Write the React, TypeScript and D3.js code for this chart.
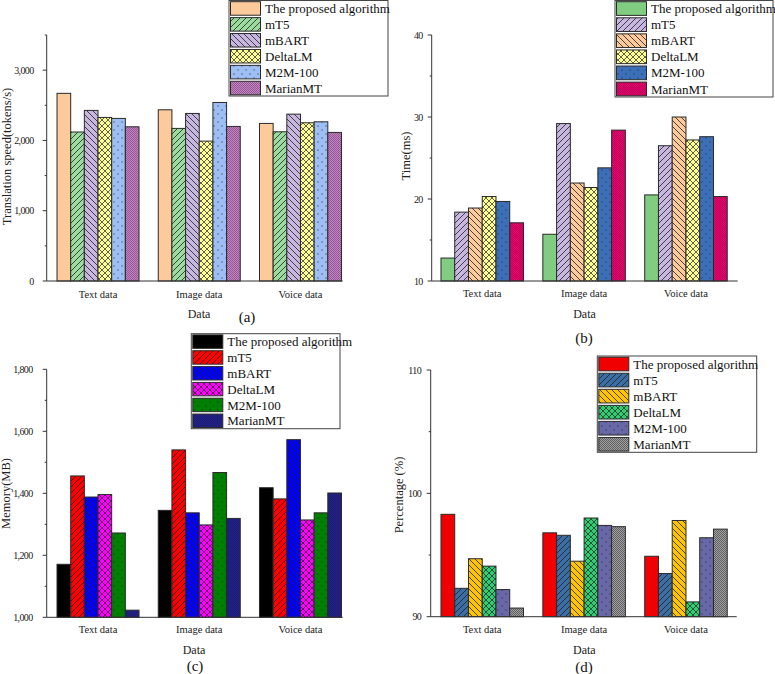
import React, { useEffect, useRef } from "react";
import * as d3 from "d3";

// categories on the x axis and the compared methods
const categories = ["Text data", "Image data", "Voice data"];
const methods = ["The proposed algorithm", "mT5", "mBART", "DeltaLM", "M2M-100", "MarianMT"];

// (a) translation speed, tokens/s — one row per method, one value per category
const speedValues = [
  [2670, 2436, 2242],
  [2120, 2171, 2123],
  [2427, 2384, 2374],
  [2327, 1990, 2251],
  [2313, 2540, 2265],
  [2194, 2199, 2114],
];

// (b) time, ms
const timeValues = [
  [12.8, 15.7, 20.5],
  [18.4, 29.2, 26.5],
  [18.9, 21.95, 30.0],
  [20.3, 21.4, 27.2],
  [19.7, 23.8, 27.6],
  [17.1, 28.4, 20.3],
];

// (c) memory, MB
const memoryValues = [
  [1171, 1345, 1418],
  [1456, 1540, 1382],
  [1388, 1337, 1573],
  [1396, 1298, 1314],
  [1272, 1467, 1337],
  [1023, 1319, 1401],
];

// (d) percentage
const percentValues = [
  [98.3, 96.8, 94.9],
  [92.3, 96.6, 93.5],
  [94.7, 94.5, 97.8],
  [94.1, 98.0, 91.2],
  [92.2, 97.4, 96.4],
  [90.7, 97.3, 97.1],
];

const speedTicks = [0, 1000, 2000, 3000];
const timeTicks = [10, 20, 30, 40];
const memoryTicks = [1000, 1200, 1400, 1600, 1800];
const percentTicks = [90, 100, 110];

const FONT = "'Liberation Serif', 'Times New Roman', serif";

type Panel = {
  key: string;
  values: number[][];
  domain: [number, number];
  ticks: number[];
  minor: number[];
  fmt: (v: number) => string;
  colors: string[];
  denseInk: number;
  yTitle: string;
  letter: string;
  axisX: [number, number];
  bandX: [number, number];
  plotY: [number, number];
  tickGap: number;
  yTitlePos: [number, number];
  dataPos: [number, number];
  letterPos: [number, number];
  tickY: number;
  legend: { x: number; y: number; w: number; h: number };
};

const comma = d3.format(",d");
const plain = d3.format("d");

const panels: Panel[] = [
  {
    key: "a",
    values: speedValues,
    domain: [0, 3500],
    ticks: speedTicks,
    minor: [500, 1500, 2500, 3500],
    fmt: comma,
    colors: ["#fdca9b", "#9bdb9e", "#c6b6e0", "#ffff99", "#9dbff5", "#c97ec9"],
    denseInk: 0.35,
    yTitle: "Translation speed(tokens/s)",
    letter: "(a)",
    axisX: [46.7, 342.7],
    bandX: [47.4, 351.1],
    plotY: [281, 35],
    tickGap: 13,
    yTitlePos: [6.5, 156.5],
    dataPos: [199, 317.5],
    letterPos: [247, 322],
    tickY: 297.5,
    legend: { x: 229, y: 0.5, w: 159, h: 95.5 },
  },
  {
    key: "b",
    values: timeValues,
    domain: [10, 40],
    ticks: timeTicks,
    minor: [15, 25, 35],
    fmt: plain,
    colors: ["#80cc80", "#c6b6e0", "#fdca9b", "#ffff99", "#3b70b8", "#f0006e"],
    denseInk: 0.3,
    yTitle: "Time(ms)",
    letter: "(b)",
    axisX: [431.7, 737.7],
    bandX: [431.3, 736.9],
    plotY: [281, 35],
    tickGap: 9,
    yTitlePos: [405.8, 156],
    dataPos: [584.5, 317.5],
    letterPos: [584, 342.5],
    tickY: 297,
    legend: { x: 615, y: 0.5, w: 158, h: 96.5 },
  },
  {
    key: "c",
    values: memoryValues,
    domain: [1000, 1800],
    ticks: memoryTicks,
    minor: [1100, 1300, 1500, 1700],
    fmt: comma,
    colors: ["#000000", "#ff0000", "#0000ff", "#ff00ff", "#008000", "#1f1f99"],
    denseInk: 0.45,
    yTitle: "Memory(MB)",
    letter: "(c)",
    axisX: [46.7, 342.7],
    bandX: [47.4, 351.1],
    plotY: [617.3, 369.3],
    tickGap: 14,
    yTitlePos: [6, 493.5],
    dataPos: [194, 653.5],
    letterPos: [195, 670.5],
    tickY: 633,
    legend: { x: 191.3, y: 333.7, w: 148.7, h: 95 },
  },
  {
    key: "d",
    values: percentValues,
    domain: [90, 110],
    ticks: percentTicks,
    minor: [95, 105],
    fmt: plain,
    colors: ["#f00000", "#3a6ea5", "#ffc400", "#33cc70", "#6868a8", "#a0a0a0"],
    denseInk: 0.5,
    yTitle: "Percentage (%)",
    letter: "(d)",
    axisX: [430.7, 736.7],
    bandX: [431.3, 736.9],
    plotY: [616.7, 370],
    tickGap: 9.5,
    yTitlePos: [398.3, 495],
    dataPos: [584.3, 653.5],
    letterPos: [584, 671.5],
    tickY: 633,
    legend: { x: 597.3, y: 356, w: 159.4, h: 96.3 },
  },
];

// fill pattern for each method slot: solid, /, \, cross, dots, dense
function addPattern(defs: any, id: string, kind: number, color: string, denseInk: number) {
  const ink = "#1f1f1f";
  if (kind === 1 || kind === 2) {
    const p = defs.append("pattern").attr("id", id).attr("patternUnits", "userSpaceOnUse")
      .attr("width", 6).attr("height", 6);
    p.append("rect").attr("width", 6).attr("height", 6).attr("fill", color);
    p.append("path")
      .attr("d", kind === 1 ? "M-1,1 l2,-2 M0,6 l6,-6 M5,7 l2,-2" : "M-1,5 l2,2 M0,0 l6,6 M5,-1 l2,2")
      .attr("stroke", ink).attr("stroke-width", 0.8);
  } else if (kind === 3) {
    const p = defs.append("pattern").attr("id", id).attr("patternUnits", "userSpaceOnUse")
      .attr("width", 6).attr("height", 6);
    p.append("rect").attr("width", 6).attr("height", 6).attr("fill", color);
    p.append("path")
      .attr("d", "M-1,1 l2,-2 M0,6 l6,-6 M5,7 l2,-2 M-1,5 l2,2 M0,0 l6,6 M5,-1 l2,2")
      .attr("stroke", ink).attr("stroke-width", 0.7);
  } else if (kind === 4) {
    const p = defs.append("pattern").attr("id", id).attr("patternUnits", "userSpaceOnUse")
      .attr("width", 8).attr("height", 8);
    p.append("rect").attr("width", 8).attr("height", 8).attr("fill", color);
    p.append("rect").attr("x", 1.5).attr("y", 1.5).attr("width", 1).attr("height", 1).attr("fill", ink);
    p.append("rect").attr("x", 5.5).attr("y", 5.5).attr("width", 1).attr("height", 1).attr("fill", ink);
  } else if (kind === 5) {
    const p = defs.append("pattern").attr("id", id).attr("patternUnits", "userSpaceOnUse")
      .attr("width", 2).attr("height", 2);
    p.append("rect").attr("width", 2).attr("height", 2).attr("fill", color);
    p.append("rect").attr("width", 1).attr("height", 1).attr("fill", ink).attr("opacity", denseInk);
    p.append("rect").attr("x", 1).attr("y", 1).attr("width", 1).attr("height", 1).attr("fill", ink).attr("opacity", denseInk);
  }
}

export default function App() {
  const svgRef = useRef<SVGSVGElement>(null);

  useEffect(() => {
    if (!svgRef.current) return;
    const svg = d3.select(svgRef.current);
    svg.selectAll("*").remove();
    svg.append("rect").attr("width", 775).attr("height", 674).attr("fill", "#fff");
    const defs = svg.append("defs");
    const axisColor = "#333";

    panels.forEach((pn) => {
      pn.colors.forEach((c, i) => {
        if (i > 0) addPattern(defs, `pat-${pn.key}-${i}`, i, c, pn.denseInk);
      });
      const fillFor = (i: number) => (i === 0 ? pn.colors[0] : `url(#pat-${pn.key}-${i})`);

      const x = d3.scaleBand<string>().domain(categories).range(pn.bandX)
        .paddingInner(0.19).paddingOuter(0.095);
      const xs = d3.scaleBand<string>().domain(methods).range([0, x.bandwidth()]);
      const y = d3.scaleLinear().domain(pn.domain).range(pn.plotY);
      const g = svg.append("g");

      // bars
      methods.forEach((m, i) => {
        g.append("g")
          .selectAll("rect")
          .data(pn.values[i])
          .join("rect")
          .attr("x", (_d, j) => (x(categories[j]) ?? 0) + (xs(m) ?? 0))
          .attr("y", (d) => y(d))
          .attr("width", xs.bandwidth())
          .attr("height", (d) => y(pn.domain[0]) - y(d))
          .attr("fill", fillFor(i))
          .attr("stroke", "#2a2a2a")
          .attr("stroke-width", 1);
      });

      // axes
      const x0 = pn.axisX[0];
      g.append("line").attr("x1", x0).attr("x2", x0).attr("y1", pn.plotY[0]).attr("y2", pn.plotY[1])
        .attr("stroke", axisColor).attr("stroke-width", 1);
      g.append("line").attr("x1", x0).attr("x2", pn.axisX[1]).attr("y1", pn.plotY[0]).attr("y2", pn.plotY[0])
        .attr("stroke", axisColor).attr("stroke-width", 1);

      g.selectAll(".major").data(pn.ticks).join("line")
        .attr("x1", x0 - 4).attr("x2", x0).attr("y1", (d) => y(d)).attr("y2", (d) => y(d))
        .attr("stroke", axisColor);
      g.selectAll(".minor").data(pn.minor).join("line")
        .attr("x1", x0 - 2).attr("x2", x0).attr("y1", (d) => y(d)).attr("y2", (d) => y(d))
        .attr("stroke", axisColor);

      g.append("g").selectAll("text").data(pn.ticks).join("text")
        .attr("x", x0 - pn.tickGap).attr("y", (d) => y(d)).attr("dy", "0.35em")
        .attr("text-anchor", "end").attr("font-family", FONT).attr("font-size", 10)
        .attr("letter-spacing", -0.6)
        .attr("fill", "#222").text((d) => pn.fmt(d));

      g.append("g").selectAll("text").data(categories).join("text")
        .attr("x", (d) => (x(d) ?? 0) + x.bandwidth() / 2).attr("y", pn.tickY)
        .attr("text-anchor", "middle").attr("font-family", FONT).attr("font-size", 10.5)
        .attr("fill", "#222").text((d) => d);

      g.append("text").attr("transform", `translate(${pn.yTitlePos[0]},${pn.yTitlePos[1]}) rotate(-90)`)
        .attr("dy", "0.35em").attr("text-anchor", "middle").attr("font-family", FONT)
        .attr("font-size", 12.5).attr("fill", "#222").text(pn.yTitle);

      g.append("text").attr("x", pn.dataPos[0]).attr("y", pn.dataPos[1]).attr("text-anchor", "middle")
        .attr("font-family", FONT).attr("font-size", 12).attr("fill", "#222").text("Data");

      g.append("text").attr("x", pn.letterPos[0]).attr("y", pn.letterPos[1]).attr("text-anchor", "middle")
        .attr("font-family", FONT).attr("font-size", 15).attr("fill", "#111").text(pn.letter);

      // legend
      const lg = pn.legend;
      const row = lg.h / methods.length;
      const leg = g.append("g");
      leg.append("rect").attr("x", lg.x).attr("y", lg.y).attr("width", lg.w).attr("height", lg.h)
        .attr("fill", "#fff").attr("stroke", "#444").attr("stroke-width", 1);
      methods.forEach((m, i) => {
        const ry = lg.y + i * row;
        leg.append("rect").attr("x", lg.x + 1.5).attr("y", ry + 1.2).attr("width", 30).attr("height", row - 2.4)
          .attr("fill", fillFor(i)).attr("stroke", "#2a2a2a").attr("stroke-width", 1);
        leg.append("text").attr("x", lg.x + 36).attr("y", ry + row / 2).attr("dy", "0.35em")
          .attr("font-family", FONT).attr("font-size", 13).attr("fill", "#111").text(m);
      });
    });
  }, []);

  return (
    <svg
      ref={svgRef}
      width={775}
      height={674}
      style={{ position: "absolute", left: 0, top: 0, display: "block" }}
    />
  );
}
